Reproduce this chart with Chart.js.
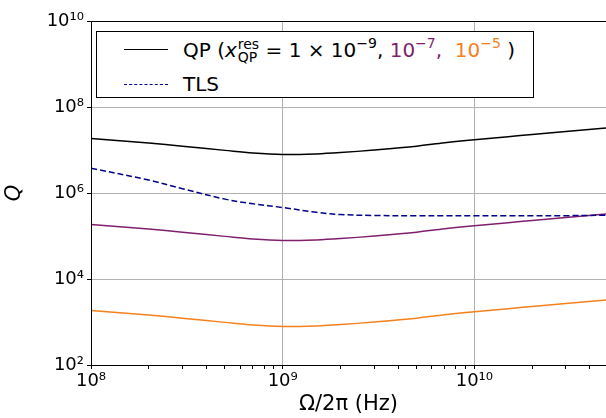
<!DOCTYPE html>
<html>
<head>
<meta charset="utf-8">
<script src="https://cdn.jsdelivr.net/npm/chart.js@4/dist/chart.umd.min.js"></script>
<style>
  html, body { margin:0; padding:0; background:#fff; }
  #wrap { position:relative; width:606px; height:418px; overflow:hidden; }
  canvas { display:block; }
  #legend { position:absolute; left:96px; top:31px; width:438px; height:67px; border:1px solid #000; background:#fff;
            font-family:'DejaVu Sans', sans-serif; font-size:20px; color:#000; box-sizing:border-box; }
  .sample { position:absolute; left:27px; width:44px; height:0; }
  .txt { position:absolute; left:86px; white-space:nowrap; line-height:1; }
  .ss { display:inline-block; vertical-align:-5px; line-height:0.95; font-size:14px; margin-left:1px; }
  .ss span { display:block; }
  sup { font-size:14px; line-height:0; vertical-align:9px; }
</style>
</head>
<body>
<div id="wrap">
  <canvas id="c" width="606" height="418"></canvas>
  <div id="legend">
    <div class="sample" style="top:17px; border-top:1.5px solid #000;"></div>
    <div class="txt" style="top:6px;">QP (<i>x</i><span class="ss"><span>res</span><span>QP</span></span> = 1 × 10<sup>−9</sup>, <span style="color:#7f1f6e">10<sup>−7</sup>,</span>&nbsp; <span style="color:#f5801e">10<sup>−5</sup></span> )</div>
    <div class="sample" style="top:52px; border-top:1.5px dashed #00008b;"></div>
    <div class="txt" style="top:42px;">TLS</div>
  </div>
</div>
<script>
// ---- data ----
const freqs = [1e8, 2e8, 3e8, 5e8, 7e8, 1e9, 1.5e9, 2e9, 3e9, 5e9, 7e9, 1e10, 1.5e10, 2e10, 3e10, 4.86e10];
const qpRes1e9 = [1.86e7, 1.45e7, 1.23e7, 9.8e6, 8.5e6, 7.85e6, 8.1e6, 8.7e6, 1.0e7, 1.23e7, 1.48e7, 1.74e7, 2.04e7, 2.29e7, 2.69e7, 3.24e7];
const qpRes1e7 = [1.86e5, 1.45e5, 1.23e5, 9.8e4, 8.5e4, 7.85e4, 8.1e4, 8.7e4, 1.0e5, 1.23e5, 1.48e5, 1.74e5, 2.04e5, 2.29e5, 2.69e5, 3.24e5];
const qpRes1e5 = [1.86e3, 1.45e3, 1.23e3, 9.8e2, 8.5e2, 7.85e2, 8.1e2, 8.7e2, 1.0e3, 1.23e3, 1.48e3, 1.74e3, 2.04e3, 2.29e3, 2.69e3, 3.24e3];
const tls = [3.76e6, 2.0e6, 1.26e6, 7.2e5, 5.6e5, 4.6e5, 3.55e5, 3.16e5, 3.0e5, 2.95e5, 2.95e5, 2.95e5, 2.95e5, 2.95e5, 2.97e5, 3.05e5];
const xMajorTicks = [1e8, 1e9, 1e10];
const xMinorTicks = [2e8,3e8,4e8,5e8,6e8,7e8,8e8,9e8,2e9,3e9,4e9,5e9,6e9,7e9,8e9,9e9,2e10,3e10,4e10];
const yMajorTicks = [1e2, 1e4, 1e6, 1e8, 1e10];
const xTickLabels = ['10⁸', '10⁹', '10¹⁰'];
const yTickLabels = ['10²', '10⁴', '10⁶', '10⁸', '10¹⁰'];

const pts = arr => freqs.map((f, i) => ({ x: f, y: arr[i] }));
const FONT = "'DejaVu Sans', sans-serif";

const frame = {
  id: 'frame',
  afterDraw(chart) {
    const a = chart.chartArea, ctx = chart.ctx;
    ctx.save();
    ctx.strokeStyle = '#000'; ctx.lineWidth = 1;
    ctx.strokeRect(a.left + 0.5, a.top + 0.5, a.right - a.left + 2, a.bottom - a.top);
    ctx.restore();
  }
};

new Chart(document.getElementById('c'), {
  type: 'line',
  data: {
    datasets: [
      { label: 'QP 1e-9', data: pts(qpRes1e9), borderColor: '#000000', borderWidth: 1.5 },
      { label: 'TLS', data: pts(tls), borderColor: '#00008b', borderWidth: 1.5, borderDash: [6, 3] },
      { label: 'QP 1e-7', data: pts(qpRes1e7), borderColor: '#7f1f6e', borderWidth: 1.5 },
      { label: 'QP 1e-5', data: pts(qpRes1e5), borderColor: '#f5801e', borderWidth: 1.5 }
    ]
  },
  options: {
    responsive: false,
    animation: false,
    elements: { point: { radius: 0 }, line: { tension: 0.35, fill: false } },
    layout: { padding: { top: 21, right: 0, left: 0, bottom: 0 } },
    plugins: { legend: { display: false }, tooltip: { enabled: false } },
    scales: {
      x: {
        type: 'logarithmic', min: 1e8, max: 4.86e10,
        afterBuildTicks: s => { s.ticks = xMajorTicks.concat(xMinorTicks).sort((a,b)=>a-b).map(v => ({ value: v, major: xMajorTicks.includes(v) })); },
        afterFit: s => { s.height = 53; },
        ticks: {
          autoSkip: false, maxRotation: 0, color: '#000', padding: 2,
          font: { family: FONT, size: 18 },
          callback: v => { const i = xMajorTicks.indexOf(v); return i >= 0 ? xTickLabels[i] : ''; }
        },
        grid: {
          color: c => (c.tick && xMajorTicks.includes(c.tick.value)) ? '#b0b0b0' : 'rgba(0,0,0,0)',
          tickColor: '#000', tickLength: 4, drawOnChartArea: true
        },
        border: { color: '#000', width: 1 },
        title: { display: true, text: 'Ω/2π (Hz)', color: '#000', font: { family: FONT, size: 21 }, padding: { top: 0, bottom: 1 } }
      },
      y: {
        type: 'logarithmic', min: 1e2, max: 1e10,
        afterBuildTicks: s => { s.ticks = yMajorTicks.map(v => ({ value: v, major: true })); },
        afterFit: s => { s.width = 91; },
        ticks: {
          autoSkip: false, color: '#000', padding: 3,
          font: { family: FONT, size: 18 },
          callback: v => { const i = yMajorTicks.indexOf(v); return i >= 0 ? yTickLabels[i] : ''; }
        },
        grid: { color: '#b0b0b0', tickColor: '#000', tickLength: 4 },
        border: { color: '#000', width: 1 },
        title: { display: true, text: 'Q', color: '#000', font: { family: FONT, size: 21, style: 'italic' }, padding: { top: 2, bottom: 0 } }
      }
    }
  },
  plugins: [frame]
});
</script>
</body>
</html>
